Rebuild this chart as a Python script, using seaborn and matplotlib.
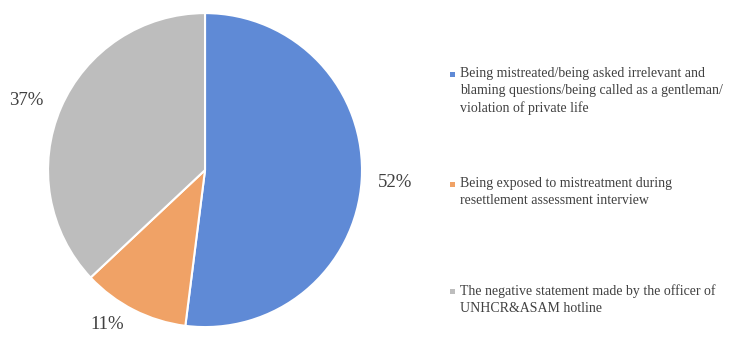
import numpy as np
import matplotlib.pyplot as plt
import matplotlib.patches as mpatches
import seaborn as sns

# data
categories = [
    "Being mistreated/being asked irrelevant and\nblaming questions/being called as a gentleman/\nviolation of private life",
    "Being exposed to mistreatment during\nresettlement assessment interview",
    "The negative statement made by the officer of\nUNHCR&ASAM hotline",
]
shares = [52, 11, 37]
colors = ["#5f8ad6", "#f0a266", "#bdbdbd"]
# where the percentage labels sit (data units, pie radius = 1)
label_pos = [(1.21, -0.076), (-0.624, -0.985), (-1.14, 0.446)]

sns.set_style("white")
plt.rcParams['font.family'] = ['Liberation Serif', 'DejaVu Serif']

fig = plt.figure(figsize=(7.54, 3.4), dpi=100)
ax = fig.add_axes([0.0637, 0.038, 0.4164, 0.9235])
wedges, texts, autotexts = ax.pie(
    shares, colors=colors, startangle=90, counterclock=False,
    autopct='%d%%', pctdistance=1.25,
    wedgeprops=dict(edgecolor='white', linewidth=1.5),
    textprops=dict(fontsize=13.5, color='#404040'),
)
for t, p in zip(autotexts, label_pos):
    t.set_position(p)
ax.set_xlim(-1, 1)
ax.set_ylim(-1, 1)
ax.set_aspect('equal')

# legend, drawn by hand so entry gaps match
tops = [67, 177, 284]
for lab, col, top in zip(categories, colors, tops):
    yf = 1 - top / 340
    fig.text(460 / 754, yf, lab, fontsize=10, color='#404040', va='top', ha='left',
             linespacing=1.38)
    sq = mpatches.Rectangle((450 / 754, 1 - (top + 10) / 340), 5 / 754, 5 / 340,
                            transform=fig.transFigure, facecolor=col, edgecolor='none')
    fig.add_artist(sq)

fig.savefig('out.png', dpi=100)
